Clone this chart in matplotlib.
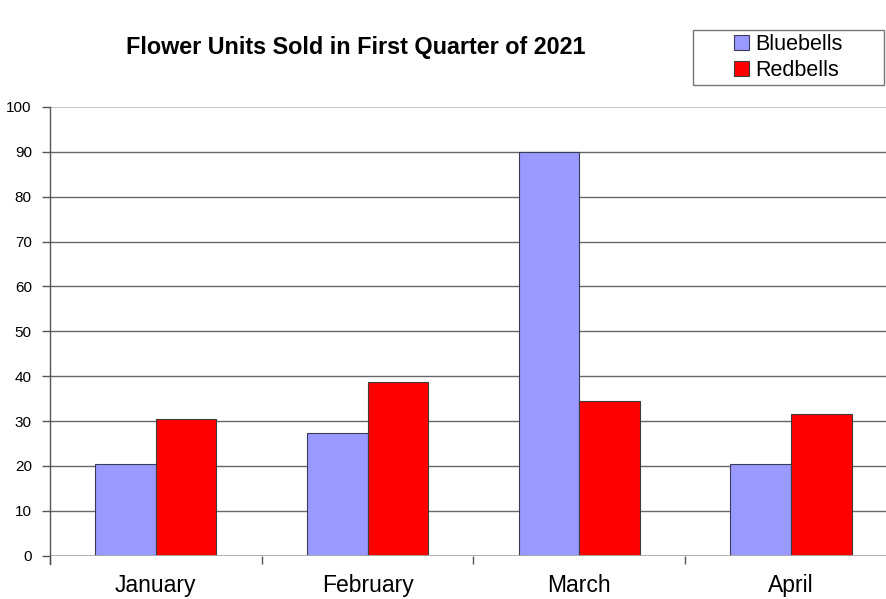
import numpy as np
import matplotlib
matplotlib.use('Agg')
from matplotlib import pyplot as plt
from matplotlib.patches import Rectangle

months = ['January', 'February', 'March', 'April']
bluebells = [20.4, 27.3, 90, 20.4]
redbells = [30.5, 38.6, 34.5, 31.6]
yticks = [0, 10, 20, 30, 40, 50, 60, 70, 80, 90, 100]

plt.rcParams['font.family'] = ['Liberation Sans', 'DejaVu Sans']

fig = plt.figure(figsize=(8.86, 5.99), dpi=100)
# plot area runs a little past the right edge of the image
ax = fig.add_axes([0.0563, 0.0723, 0.956, 0.7491])

x = np.arange(len(months))
w = 0.286
ax.bar(x - w / 2, bluebells, w, color='#9999ff', edgecolor='#3c3c5a', linewidth=0.8,
       label='Bluebells', zorder=3)
ax.bar(x + w / 2, redbells, w, color='#ff0000', edgecolor='#3c3c3c', linewidth=0.8,
       label='Redbells', zorder=3)

ax.set_xlim(-0.5, len(months) - 0.5)
ax.set_ylim(0, 100)
ax.set_yticks(yticks)
ax.tick_params(axis='y', labelsize=11, length=6, width=1, color='#555555', pad=7)
ax.set_xticks(x)
ax.set_xticklabels(months, fontsize=16.5)
ax.tick_params(axis='x', length=0, pad=13)
# small separators between the month groups
ax.set_xticks(np.arange(len(months) + 1) - 0.5, minor=True)
ax.tick_params(axis='x', which='minor', length=6, width=1, color='#555555')

for v in yticks[1:-1]:
    ax.axhline(v, color='#666666', linewidth=1, zorder=1)
ax.axhline(100, color='#bbbbbb', linewidth=1.2, zorder=1)
ax.axhline(0, color='#aaaaaa', linewidth=2, zorder=4)

for s in ['top', 'right', 'bottom']:
    ax.spines[s].set_visible(False)
ax.spines['left'].set_color('#555555')
ax.spines['left'].set_linewidth(1)
ax.spines['left'].set_bounds(-1.8, 100)
ax.spines['left'].set_zorder(5)

fig.text(0.401, 0.920, 'Flower Units Sold in First Quarter of 2021', ha='center', va='center',
         fontsize=16.8, fontweight='bold')

# legend box is wider than its entries, so draw the frame separately
fig.patches.append(Rectangle((0.782, 0.858), 0.216, 0.092, transform=fig.transFigure,
                             facecolor='white', edgecolor='#777777', linewidth=1, zorder=1))
leg = fig.legend(loc='center', bbox_to_anchor=(0.890, 0.904), fontsize=15.5, frameon=False,
                 handlelength=0.7, handleheight=0.7, handletextpad=0.3, borderpad=0,
                 labelspacing=0.2, borderaxespad=0)
leg.set_zorder(2)

fig.savefig('out.png', dpi=100)
